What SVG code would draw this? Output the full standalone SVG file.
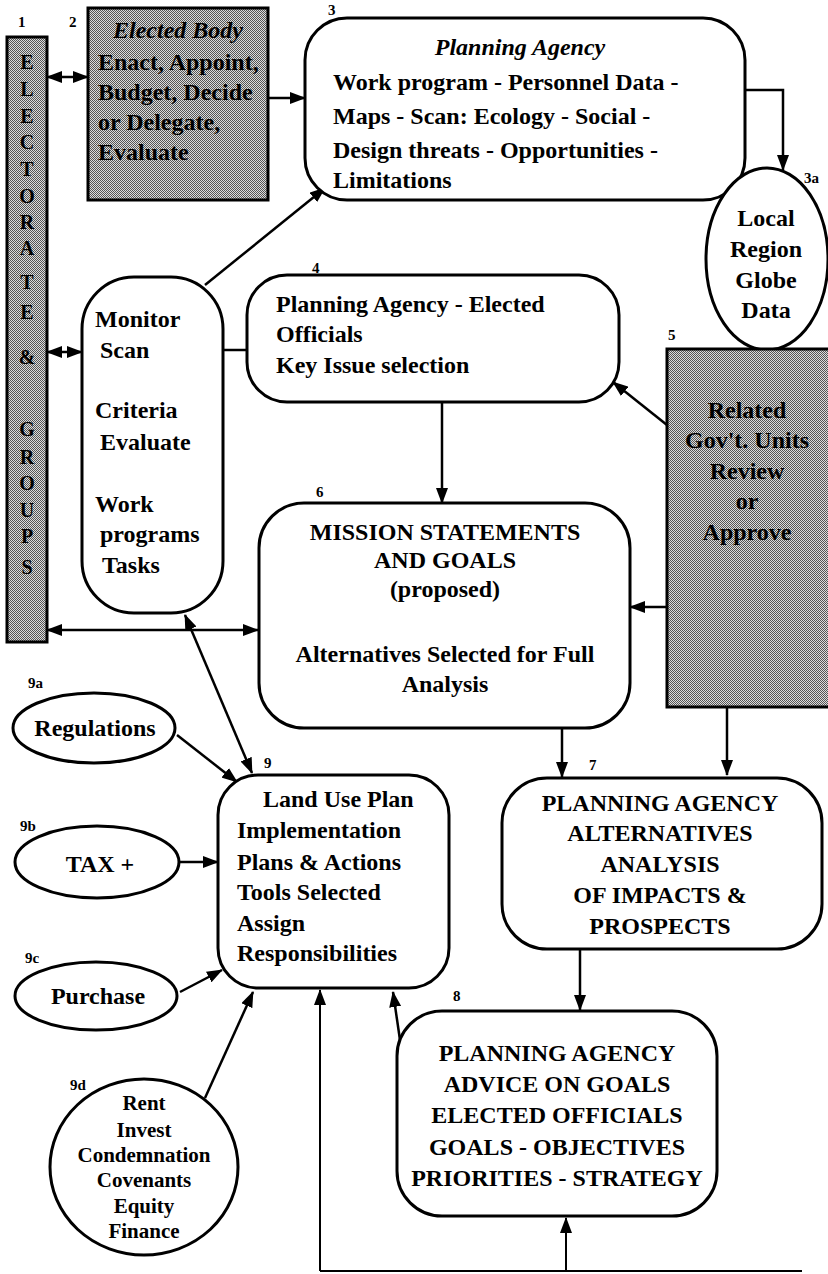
<svg xmlns="http://www.w3.org/2000/svg" width="828" height="1274" viewBox="0 0 828 1274">
<style>
text{font-family:"Liberation Serif","Times New Roman",serif;font-weight:bold;fill:#000}
.t{font-size:24px}
.c{text-anchor:middle}
.i{font-style:italic}
.lbl{font-size:15px}
.sm{font-size:21px}
.let{font-size:20px;text-anchor:middle}
.box{fill:#fff;stroke:#000;stroke-width:3}
.shade{fill:url(#dots);stroke:#000;stroke-width:3}
.con path{fill:none;stroke:#000;stroke-width:2.5}
.con path.thin{stroke-width:2}
</style>
<defs>
<pattern id="dots" width="2" height="2" patternUnits="userSpaceOnUse">
<rect width="2" height="2" fill="#dcdcdc"/>
<rect width="1" height="1" fill="#555"/>
<rect x="1" y="1" width="1" height="1" fill="#555"/>
</pattern>
<marker id="ah" markerUnits="userSpaceOnUse" markerWidth="16" markerHeight="12" refX="15" refY="6" orient="auto-start-reverse">
<path d="M0,0 L16,6 L0,12 z" fill="#000"/>
</marker>
</defs>
<rect width="828" height="1274" fill="#fff"/>

<g id="connectors" class="con">
<path d="M47,77 H88" marker-start="url(#ah)" marker-end="url(#ah)"/>
<path d="M268,98 H305" marker-end="url(#ah)"/>
<path d="M745,90 H783 V170" marker-end="url(#ah)"/>
<path d="M205,285 L325,188" marker-end="url(#ah)"/>
<path d="M47,352 H82" marker-start="url(#ah)" marker-end="url(#ah)"/>
<path d="M223,350 H247"/>
<path d="M667,425 L613,382" marker-end="url(#ah)"/>
<path d="M442,402 V503" marker-end="url(#ah)"/>
<path d="M667,607 H630" marker-end="url(#ah)"/>
<path d="M47,630 H258" marker-start="url(#ah)" marker-end="url(#ah)"/>
<path d="M185,615 L252,773" marker-start="url(#ah)" marker-end="url(#ah)"/>
<path d="M177,735 L237,782" marker-end="url(#ah)"/>
<path d="M179,862 H218" marker-end="url(#ah)"/>
<path d="M180,992 L222,970" marker-end="url(#ah)"/>
<path d="M205,1098 L253,992" marker-end="url(#ah)"/>
<path d="M562,727 V777" marker-end="url(#ah)"/>
<path d="M727,707 V775" marker-end="url(#ah)"/>
<path d="M580,949 V1010" marker-end="url(#ah)"/>
<path d="M400,1040 L393,992" marker-end="url(#ah)"/>
<path class="thin" d="M320,1271 H802"/>
<path class="thin" d="M320,1271 V990" marker-end="url(#ah)"/>
<path class="thin" d="M566,1271 V1218" marker-end="url(#ah)"/>
</g>

<g id="n1">
<rect class="shade" x="7" y="37" width="40" height="605"/>
<text class="lbl" x="18" y="27">1</text>
<text class="let" x="27" y="69">E</text>
<text class="let" x="27" y="96">L</text>
<text class="let" x="27" y="123">E</text>
<text class="let" x="27" y="149">C</text>
<text class="let" x="27" y="176">T</text>
<text class="let" x="27" y="203">O</text>
<text class="let" x="27" y="229">R</text>
<text class="let" x="27" y="255">A</text>
<text class="let" x="27" y="289">T</text>
<text class="let" x="27" y="319">E</text>
<text class="let" x="27" y="364">&amp;</text>
<text class="let" x="27" y="436">G</text>
<text class="let" x="27" y="464">R</text>
<text class="let" x="27" y="490">O</text>
<text class="let" x="27" y="517">U</text>
<text class="let" x="27" y="543">P</text>
<text class="let" x="27" y="574">S</text>
</g>

<g id="n2">
<rect class="shade" x="88" y="8" width="180" height="192"/>
<text class="lbl" x="69" y="27">2</text>
<text class="t c i" x="178" y="38">Elected Body</text>
<text class="t" x="98" y="70">Enact, Appoint,</text>
<text class="t" x="98" y="100">Budget, Decide</text>
<text class="t" x="98" y="130">or Delegate,</text>
<text class="t" x="98" y="160">Evaluate</text>
</g>

<g id="n3">
<rect class="box" x="305" y="18" width="440" height="182" rx="42"/>
<text class="lbl" x="328" y="15">3</text>
<text class="t c i" x="520" y="55">Planning Agency</text>
<text class="t" x="333" y="90">Work program - Personnel Data -</text>
<text class="t" x="333" y="124">Maps - Scan: Ecology - Social -</text>
<text class="t" x="333" y="158">Design threats - Opportunities -</text>
<text class="t" x="333" y="188">Limitations</text>
</g>

<g id="n3a">
<ellipse class="box" cx="767" cy="259" rx="61" ry="91"/>
<text class="lbl" x="804" y="183">3a</text>
<text class="t c" x="766" y="226">Local</text>
<text class="t c" x="766" y="257">Region</text>
<text class="t c" x="766" y="288">Globe</text>
<text class="t c" x="766" y="318">Data</text>
</g>

<g id="monitor">
<rect class="box" x="82" y="277" width="141" height="336" rx="52"/>
<text class="t" x="95" y="327">Monitor</text>
<text class="t" x="100" y="358">Scan</text>
<text class="t" x="95" y="418">Criteria</text>
<text class="t" x="100" y="450">Evaluate</text>
<text class="t" x="95" y="512">Work</text>
<text class="t" x="100" y="542">programs</text>
<text class="t" x="102" y="573">Tasks</text>
</g>

<g id="n4">
<rect class="box" x="247" y="275" width="372" height="127" rx="40"/>
<text class="lbl" x="312" y="273">4</text>
<text class="t" x="276" y="312">Planning Agency - Elected</text>
<text class="t" x="276" y="342">Officials</text>
<text class="t" x="276" y="373">Key Issue selection</text>
</g>

<g id="n5">
<rect class="shade" x="667" y="349" width="170" height="358"/>
<text class="lbl" x="668" y="340">5</text>
<text class="t c" x="747" y="418">Related</text>
<text class="t c" x="747" y="448">Gov't. Units</text>
<text class="t c" x="747" y="479">Review</text>
<text class="t c" x="747" y="509">or</text>
<text class="t c" x="747" y="540">Approve</text>
</g>

<g id="n6">
<rect class="box" x="259" y="503" width="371" height="225" rx="45"/>
<text class="lbl" x="316" y="497">6</text>
<text class="t c" x="445" y="540">MISSION STATEMENTS</text>
<text class="t c" x="445" y="568">AND GOALS</text>
<text class="t c" x="445" y="597">(proposed)</text>
<text class="t c" x="445" y="662">Alternatives Selected for Full</text>
<text class="t c" x="445" y="692">Analysis</text>
</g>

<g id="n7">
<rect class="box" x="502" y="778" width="320" height="171" rx="45"/>
<text class="lbl" x="589" y="770">7</text>
<text class="t c" x="660" y="811">PLANNING AGENCY</text>
<text class="t c" x="660" y="841">ALTERNATIVES</text>
<text class="t c" x="660" y="872">ANALYSIS</text>
<text class="t c" x="660" y="903">OF IMPACTS &amp;</text>
<text class="t c" x="660" y="934">PROSPECTS</text>
</g>

<g id="n8">
<rect class="box" x="397" y="1011" width="320" height="205" rx="45"/>
<text class="lbl" x="453" y="1001">8</text>
<text class="t c" x="557" y="1061">PLANNING AGENCY</text>
<text class="t c" x="557" y="1092">ADVICE ON GOALS</text>
<text class="t c" x="557" y="1123">ELECTED OFFICIALS</text>
<text class="t c" x="557" y="1155">GOALS - OBJECTIVES</text>
<text class="t c" x="557" y="1186">PRIORITIES - STRATEGY</text>
</g>

<g id="n9">
<rect class="box" x="218" y="775" width="231" height="213" rx="40"/>
<text class="lbl" x="264" y="768">9</text>
<text class="t" x="263" y="807">Land Use Plan</text>
<text class="t" x="237" y="838">Implementation</text>
<text class="t" x="237" y="870">Plans &amp; Actions</text>
<text class="t" x="237" y="900">Tools Selected</text>
<text class="t" x="237" y="931">Assign</text>
<text class="t" x="237" y="961">Responsibilities</text>
</g>

<g id="n9a">
<ellipse class="box" cx="94" cy="728" rx="81" ry="35"/>
<text class="lbl" x="28" y="688">9a</text>
<text class="t c" x="95" y="736">Regulations</text>
</g>

<g id="n9b">
<ellipse class="box" cx="97" cy="862" rx="82" ry="36"/>
<text class="lbl" x="20" y="831">9b</text>
<text class="t c" x="100" y="872">TAX +</text>
</g>

<g id="n9c">
<ellipse class="box" cx="96" cy="996" rx="81" ry="34"/>
<text class="lbl" x="25" y="963">9c</text>
<text class="t c" x="98" y="1004">Purchase</text>
</g>

<g id="n9d">
<ellipse class="box" cx="144" cy="1167" rx="94" ry="88"/>
<text class="lbl" x="70" y="1090">9d</text>
<text class="sm c" x="144" y="1110">Rent</text>
<text class="sm c" x="144" y="1137">Invest</text>
<text class="sm c" x="144" y="1162">Condemnation</text>
<text class="sm c" x="144" y="1187">Covenants</text>
<text class="sm c" x="144" y="1213">Equity</text>
<text class="sm c" x="144" y="1238">Finance</text>
</g>
</svg>
